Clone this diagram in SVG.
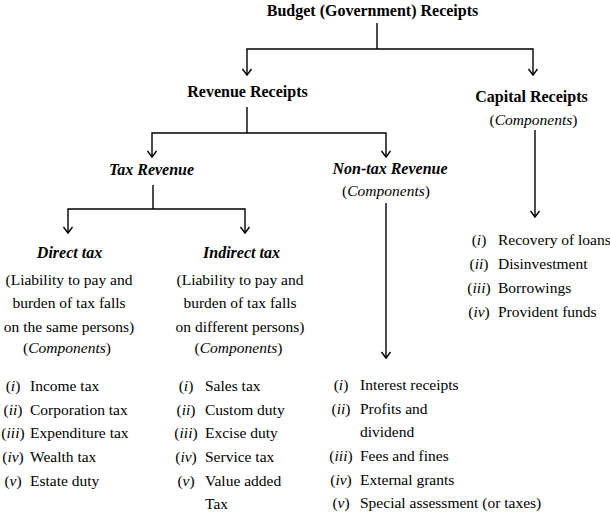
<svg xmlns="http://www.w3.org/2000/svg" width="610" height="519" viewBox="0 0 610 519">
<style>
text{font-family:"Liberation Serif","Times New Roman",serif;fill:#000}
.h{font-size:16px;font-weight:bold;text-anchor:middle}
.hi{font-size:16px;font-weight:bold;font-style:italic;text-anchor:middle}
.t{font-size:15.5px}
.m{text-anchor:middle}
.i{font-style:italic}
.cn path{fill:none;stroke:#000;stroke-width:1.4}
.arr{marker-end:url(#ah)}
</style>
<defs>
<marker id="ah" markerUnits="userSpaceOnUse" viewBox="-8 -6 10 12" refX="0" refY="0" markerWidth="10" markerHeight="12" orient="auto">
<path d="M-6,-4.5 L0,0 L-6,4.5" fill="none" stroke="#000" stroke-width="1.4"/>
</marker>
</defs>
<rect width="610" height="519" fill="#fff"/>
<g class="cn" id="connectors">
<path d="M377,23 V49"/>
<path class="arr" d="M377,49 H247 V75"/>
<path class="arr" d="M377,49 H533 V75"/>
<path d="M247,107 V133"/>
<path class="arr" d="M247,133 H152 V157"/>
<path class="arr" d="M247,133 H386 V157"/>
<path d="M153,185 V209"/>
<path class="arr" d="M153,209 H68 V233"/>
<path class="arr" d="M153,209 H245 V233"/>
<path class="arr" d="M535,130 V217"/>
<path class="arr" d="M386,203 V358"/>
</g>
<g id="n-budget"><text class="h" x="372.5" y="16">Budget (Government) Receipts</text></g>
<g id="n-revenue"><text class="h" x="247.5" y="97">Revenue Receipts</text></g>
<g id="n-capital">
<text class="h" x="531.5" y="102">Capital Receipts</text>
<text class="t m" x="533.5" y="125">(<tspan class="i">Components</tspan>)</text>
</g>
<g id="n-tax"><text class="hi" x="151.5" y="175">Tax Revenue</text></g>
<g id="n-nontax">
<text class="hi" x="390" y="174">Non-tax Revenue</text>
<text class="t m" x="386" y="196">(<tspan class="i">Components</tspan>)</text>
</g>
<g id="n-direct">
<text class="hi" x="69.5" y="258">Direct tax</text>
<text class="t m" x="69" y="285">(Liability to pay and</text>
<text class="t m" x="69" y="308">burden of tax falls</text>
<text class="t m" x="69" y="332">on the same persons)</text>
<text class="t m" x="67" y="353">(<tspan class="i">Components</tspan>)</text>
</g>
<g id="n-indirect">
<text class="hi" x="241.5" y="258">Indirect tax</text>
<text class="t m" x="240" y="285">(Liability to pay and</text>
<text class="t m" x="240" y="308">burden of tax falls</text>
<text class="t m" x="240" y="332">on different persons)</text>
<text class="t m" x="238.5" y="353">(<tspan class="i">Components</tspan>)</text>
</g>
<g id="list-direct" class="t">
<text class="t m" x="13" y="391">(<tspan class="i">i</tspan>)</text><text class="t" x="30" y="391">Income tax</text>
<text class="t m" x="13" y="415">(<tspan class="i">ii</tspan>)</text><text class="t" x="30" y="415">Corporation tax</text>
<text class="t m" x="13" y="438">(<tspan class="i">iii</tspan>)</text><text class="t" x="30" y="438">Expenditure tax</text>
<text class="t m" x="13" y="462">(<tspan class="i">iv</tspan>)</text><text class="t" x="30" y="462">Wealth tax</text>
<text class="t m" x="13" y="486">(<tspan class="i">v</tspan>)</text><text class="t" x="30" y="486">Estate duty</text>
</g>
<g id="list-indirect">
<text class="t m" x="186" y="391">(<tspan class="i">i</tspan>)</text><text class="t" x="205" y="391">Sales tax</text>
<text class="t m" x="186" y="415">(<tspan class="i">ii</tspan>)</text><text class="t" x="205" y="415">Custom duty</text>
<text class="t m" x="186" y="438">(<tspan class="i">iii</tspan>)</text><text class="t" x="205" y="438">Excise duty</text>
<text class="t m" x="186" y="462">(<tspan class="i">iv</tspan>)</text><text class="t" x="205" y="462">Service tax</text>
<text class="t m" x="186" y="486">(<tspan class="i">v</tspan>)</text><text class="t" x="205" y="486">Value added</text>
<text class="t" x="205" y="509">Tax</text>
</g>
<g id="list-nontax">
<text class="t m" x="341" y="390">(<tspan class="i">i</tspan>)</text><text class="t" x="360" y="390">Interest receipts</text>
<text class="t m" x="341" y="414">(<tspan class="i">ii</tspan>)</text><text class="t" x="360" y="414">Profits and</text>
<text class="t" x="360" y="437">dividend</text>
<text class="t m" x="341" y="461">(<tspan class="i">iii</tspan>)</text><text class="t" x="360" y="461">Fees and fines</text>
<text class="t m" x="341" y="485">(<tspan class="i">iv</tspan>)</text><text class="t" x="360" y="485">External grants</text>
<text class="t m" x="341" y="508">(<tspan class="i">v</tspan>)</text><text class="t" x="360" y="508">Special assessment (or taxes)</text>
</g>
<g id="list-capital">
<text class="t m" x="479" y="245">(<tspan class="i">i</tspan>)</text><text class="t" x="498" y="245">Recovery of loans</text>
<text class="t m" x="479" y="269">(<tspan class="i">ii</tspan>)</text><text class="t" x="498" y="269">Disinvestment</text>
<text class="t m" x="479" y="293">(<tspan class="i">iii</tspan>)</text><text class="t" x="498" y="293">Borrowings</text>
<text class="t m" x="479" y="317">(<tspan class="i">iv</tspan>)</text><text class="t" x="498" y="317">Provident funds</text>
</g>
</svg>
